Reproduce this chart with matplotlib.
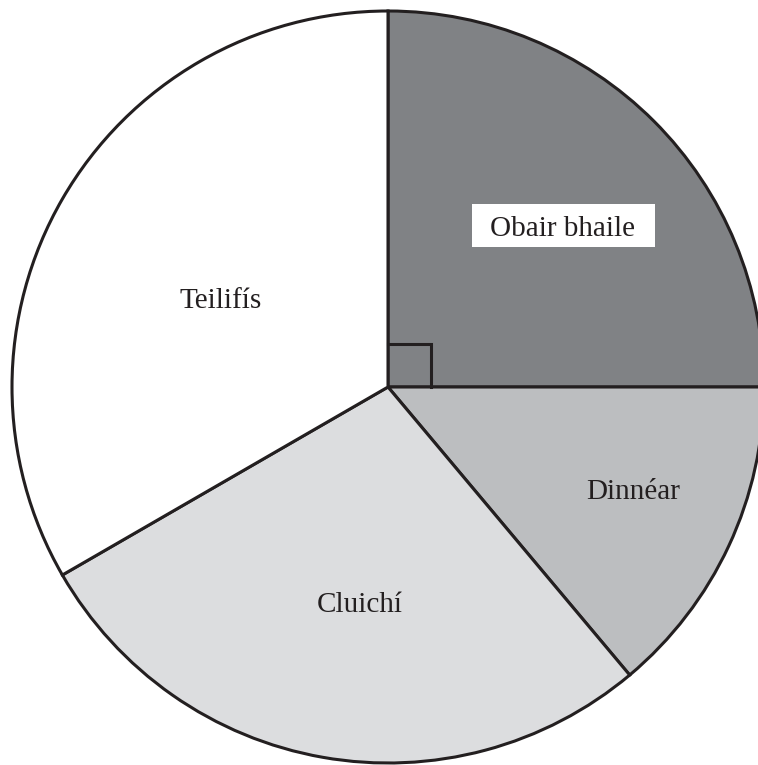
import matplotlib.pyplot as plt
from matplotlib.patches import Rectangle

# slice sizes in degrees, clockwise from 12 o'clock
labels = ["Obair bhaile", "Dinnéar", "Cluichí", "Teilifís"]
values = [90, 50, 100, 120]
colors = ["#808285", "#bcbec0", "#dcdddf", "#ffffff"]

W, H = 758, 765
cx, cy, r = 388, H - 387, 376
edge = "#231f20"

fig = plt.figure(figsize=(W / 100, H / 100), dpi=100)
ax = fig.add_axes([0, 0, 1, 1])
ax.pie(values, colors=colors, startangle=90, counterclock=False,
       center=(cx, cy), radius=r,
       wedgeprops=dict(edgecolor=edge, linewidth=2.2, joinstyle="miter"))
ax.set_xlim(0, W)
ax.set_ylim(0, H)
ax.set_aspect("auto")
ax.axis("off")

# right angle marker
s = 43
ax.plot([cx, cx + s, cx + s], [cy + s, cy + s, cy], color=edge, lw=2.2,
        solid_joinstyle="miter")

# white box behind the first label
ax.add_patch(Rectangle((472, H - 247), 183, 43, facecolor="white",
                       edgecolor="none", zorder=3))

font = dict(family="Liberation Serif", fontsize=21, color="#231f20",
            ha="center", va="baseline", zorder=4)
ax.text(563, H - 236, labels[0], **font)
ax.text(633, H - 499, labels[1], **font)
ax.text(360, H - 611.5, labels[2], **font)
ax.text(221, H - 308, labels[3], **font)

fig.savefig("out.png", dpi=100)
